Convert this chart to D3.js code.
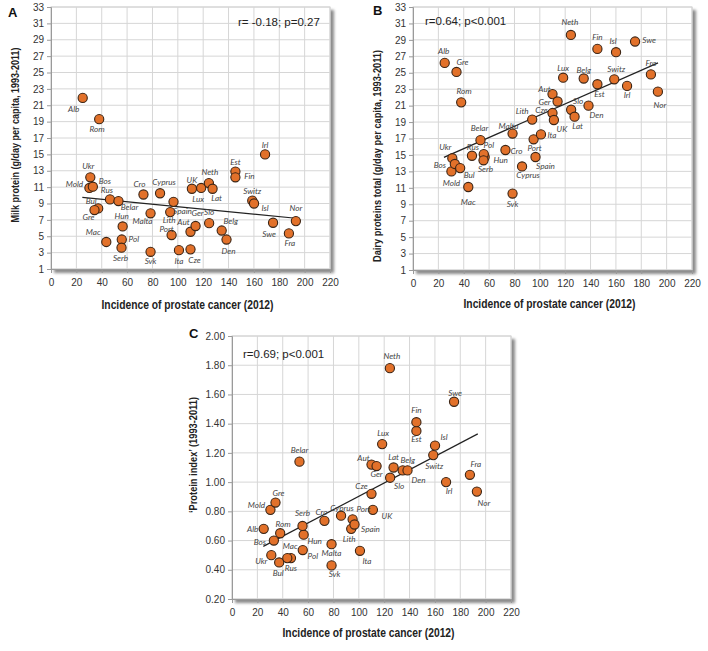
<!DOCTYPE html>
<html><head><meta charset="utf-8">
<script src="https://d3js.org/d3.v7.min.js"></script>
<style>
body{margin:0;background:#fff;}
svg{display:block;}
</style></head>
<body>
<svg id="chart" width="708" height="651"></svg>
<script>
// ---------- DATA ----------
const countries = ["Alb","Rom","Ukr","Mold","Bos","Rus","Belar","Bul","Gre","Hun","Mac","Pol","Serb","Svk","Cro","Cyprus","Malta","Lith","Port","Spain","Ita","Cze","Aut","Ger","Slo","Belg","Den","UK","Lux","Neth","Lat","Est","Fin","Irl","Switz","Isl","Swe","Nor","Fra"];
const incidence = [25,38,31,30.3,33,46.5,53.2,37.2,34.3,56.5,43.6,55.8,55.6,78.5,72.9,86,78.5,94,95.1,96.6,100.9,110,110,114,124.7,134.6,138.4,111.1,118.4,124.5,127.4,145.4,145.4,168.8,158.7,160.1,175.1,193.1,187.6];
const milkProtein = [21.9,19.3,12.2,10.9,11.05,9.5,9.3,8.4,8.2,6.2,4.3,4.6,3.6,3.1,10.1,10.25,7.8,7.95,5.15,9.2,3.3,3.4,5.55,6.25,6.6,5.7,4.6,10.8,10.9,11.5,10.8,12.9,12.2,15.0,9.35,9.0,6.65,6.85,5.35];
const dairyProtein = [26.2,21.4,14.6,13.0,13.9,14.9,16.8,13.4,25.1,14.75,11.1,15.1,14.35,10.3,15.6,13.6,17.6,19.3,16.9,14.75,17.5,20.1,22.4,21.5,20.5,24.3,21.0,19.25,24.4,29.6,19.65,23.6,27.9,23.4,24.2,27.5,28.8,22.7,24.8];
const proteinIndex = [0.68,0.65,0.50,0.81,0.60,0.48,1.14,0.45,0.86,0.64,0.48,0.535,0.70,0.43,0.735,0.77,0.575,0.68,0.745,0.71,0.53,0.92,1.12,1.11,1.03,1.08,1.08,0.81,1.26,1.78,1.10,1.35,1.41,1.00,1.185,1.25,1.55,0.935,1.05];
const xTicks = [0,20,40,60,80,100,120,140,160,180,200,220];
const yTicksProtein = [1,3,5,7,9,11,13,15,17,19,21,23,25,27,29,31,33];
const yTicksIndex = [0.20,0.40,0.60,0.80,1.00,1.20,1.40,1.60,1.80,2.00];
// trend lines: [x, y] endpoints
const trendA = [[24.7,9.75],[193,7.2]];
const trendB = [[24.4,14.7],[193.2,26.2]];
const trendC = [[24.7,0.56],[193.8,1.33]];
const statA = "r= -0.18; p=0.27";
const statB = "r=0.64; p<0.001";
const statC = "r=0.69; p<0.001";
const xTitle = "Incidence of prostate cancer (2012)";
const yTitleA = "Milk protein (g/day per capita, 1993-2011)";
const yTitleB = "Dairy proteins total (g/day per capita, 1993-2011)";
const yTitleC = "\u2018Protein index\u2019 (1993-2011)";

// ---------- LAYOUT (label offsets in px, relative to dot) ----------
const labA = {Alb:[-9,11],Rom:[-2,10],Ukr:[-2,-11],Mold:[-15,-4],Bos:[12,-6],Rus:[-3,-9],Belar:[11,6],Bul:[-7,-7],Gre:[-6,7],Hun:[-1,-10],Mac:[-13,-10],Pol:[12,-1],Serb:[-1,10],Svk:[0,9],Cro:[-4,-10],Cyprus:[4,-11],Malta:[-8,8],Lith:[-1,8],Port:[-5,-6],Spain:[9,9],Ita:[0,11],Cze:[4,11],Aut:[-7,-10],Ger:[2,-13],Slo:[0,-11],Belg:[9,-10],Den:[2,11],UK:[0,-9],Lux:[-3,11],Neth:[1,-11],Lat:[4,9],Est:[0,-10],Fin:[14,-1],Irl:[0,-9],Switz:[0,-10],Isl:[11,4],Swe:[-4,11],Nor:[0,-13],Fra:[1,10]};
const labB = {Alb:[-1,-12],Gre:[6,-10],Rom:[3,-11],Belar:[-1,-12],Malta:[-4,-8],Lith:[-10,-9],Ukr:[-7,-11],Rus:[1,-9],Pol:[5,-9],Cro:[11,1],Hun:[16,3],Serb:[2,9],Bos:[-15,1],Bul:[9,7],Mold:[0,12],Mac:[0,15],Svk:[0,10],Cyprus:[6,9],Spain:[10,9],Port:[1,9],Ita:[11,1],UK:[8,9],Cze:[-11,-3],Ger:[-13,0],Aut:[-8,-5],Slo:[7,-9],Lat:[3,9],Den:[8,9],Lux:[0,-10],Belg:[0,-9],Switz:[2,-10],Est:[2,10],Irl:[0,9],Fra:[0,-11],Nor:[2,13],Neth:[-1,-13],Fin:[0,-12],Isl:[-3,-11],Swe:[14,-2]};
const labC = {Belar:[0,-12],Neth:[2,-12],Swe:[1,-9],Fin:[0,-12],Est:[0,8],Lux:[1,-11],Isl:[9,-9],Switz:[1,11],Aut:[-8,-7],Ger:[0,8],Lat:[0,-11],Belg:[5,-10],Den:[11,10],Fra:[6,-11],Irl:[3,9],Slo:[9,8],Cze:[-10,-8],Nor:[7,11],UK:[14,6],Port:[11,-10],Spain:[16,5],Lith:[-2,10],Ita:[7,10],Gre:[3,-10],Mold:[-14,-5],Alb:[-11,0],Rom:[3,-9],Bos:[-14,1],Ukr:[-10,6],Bul:[-1,11],Mac:[3,-12],Rus:[0,10],Serb:[0,-13],Hun:[11,6],Pol:[10,6],Cro:[-3,-9],Cyprus:[1,-8],Malta:[0,9],Svk:[3,9]};

const svg = d3.select("#chart");
const defs = svg.append("defs");
defs.append("filter").attr("id","shadow").attr("x","-10%").attr("y","-10%").attr("width","130%").attr("height","130%")
  .append("feGaussianBlur").attr("stdDeviation",1.8);

function panel(cfg){
  const x = d3.scaleLinear().domain([0,220]).range([cfg.x0,cfg.x1]);
  const y = d3.scaleLinear().domain(cfg.yDom).range([cfg.yBot,cfg.yTop]);
  const g = svg.append("g");
  const w = cfg.x1-cfg.x0, h = cfg.yBot-cfg.yTop;
  g.append("rect").attr("x",cfg.x0+3).attr("y",cfg.yTop+3).attr("width",w+1).attr("height",h+1)
    .attr("fill","#8a8a8a").attr("filter","url(#shadow)");
  g.append("rect").attr("x",cfg.x0).attr("y",cfg.yTop).attr("width",w).attr("height",h)
    .attr("fill","#fff").attr("stroke","#cfcfcf");
  // grid
  g.append("g").selectAll("line").data(cfg.yTicks).join("line")
    .attr("x1",cfg.x0).attr("x2",cfg.x1).attr("y1",d=>y(d)).attr("y2",d=>y(d))
    .attr("stroke","#d6d6d6").attr("stroke-width",1);
  g.append("g").selectAll("line").data(xTicks).join("line")
    .attr("y1",cfg.yTop).attr("y2",cfg.yBot).attr("x1",d=>x(d)).attr("x2",d=>x(d))
    .attr("stroke","#d6d6d6").attr("stroke-width",1);
  // axes
  const ax = g.append("g").attr("transform",`translate(0,${cfg.yBot})`)
    .call(d3.axisBottom(x).tickValues(xTicks).tickSize(4).tickPadding(6).tickFormat(d3.format("d")));
  const ay = g.append("g").attr("transform",`translate(${cfg.x0},0)`)
    .call(d3.axisLeft(y).tickValues(cfg.yTicks).tickSize(4).tickPadding(3).tickFormat(cfg.fmt));
  [ax,ay].forEach(a=>{
    a.select(".domain").attr("stroke","#9a9a9a");
    a.selectAll(".tick line").attr("stroke","#9a9a9a");
    a.selectAll("text").attr("font-family","'Liberation Sans',Arial,sans-serif").attr("font-size",10).attr("fill","#333");
  });
  // trend line
  g.append("path").datum(cfg.trend)
    .attr("d",d3.line().x(d=>x(d[0])).y(d=>y(d[1])))
    .attr("stroke","#222").attr("stroke-width",1.2).attr("fill","none");
  // points
  const pts = countries.map((c,i)=>({c, xv:incidence[i], yv:cfg.vals[i]}));
  g.append("g").selectAll("circle").data(pts).join("circle")
    .attr("cx",d=>x(d.xv)).attr("cy",d=>y(d.yv)).attr("r",4.6)
    .attr("fill","#e2712a").attr("stroke","#3b2414").attr("stroke-width",1.1);
  g.append("g").selectAll("text").data(pts).join("text")
    .attr("x",d=>x(d.xv)+(cfg.lab[d.c]||[0,-10])[0])
    .attr("y",d=>y(d.yv)+(cfg.lab[d.c]||[0,-10])[1])
    .attr("text-anchor","middle").attr("dominant-baseline","central")
    .attr("font-family","Lato,'Open Sans',sans-serif").attr("font-style","italic")
    .attr("font-size",8.2).attr("fill","#444").text(d=>d.c);
  // stat text
  g.append("text").attr("x",cfg.statX).attr("y",cfg.statY)
    .attr("font-family","'Liberation Sans',Arial,sans-serif").attr("font-size",11.5).attr("fill","#222")
    .text(cfg.stat);
  // titles
  g.append("text").attr("x",(cfg.x0+cfg.x1)/2 - 3).attr("y",cfg.xTitleY)
    .attr("text-anchor","middle").attr("font-family","'Liberation Sans',Arial,sans-serif")
    .attr("font-weight","bold").attr("font-size",12).attr("fill","#222")
    .attr("textLength",172).attr("lengthAdjust","spacingAndGlyphs").text(xTitle);
  g.append("text").attr("transform",`translate(${cfg.yTitleX},${cfg.yTitleY}) rotate(-90)`)
    .attr("text-anchor","middle").attr("dominant-baseline","central")
    .attr("font-family","'Liberation Sans',Arial,sans-serif")
    .attr("font-weight","bold").attr("font-size",10.5).attr("fill","#222")
    .attr("textLength",cfg.yTitleLen).attr("lengthAdjust","spacingAndGlyphs").text(cfg.yTitle);
  g.append("text").attr("x",cfg.letterX).attr("y",cfg.letterY)
    .attr("font-family","'Liberation Sans',Arial,sans-serif").attr("font-weight","bold")
    .attr("font-size",13).attr("fill","#111").text(cfg.letter);
}

panel({x0:51,x1:330,yTop:7,yBot:269,yDom:[1,33],yTicks:yTicksProtein,fmt:d3.format("d"),
  vals:milkProtein,lab:labA,trend:trendA,stat:statA,statX:238,statY:26,
  xTitleY:309,yTitle:yTitleA,yTitleX:15,yTitleY:135,yTitleLen:175,letter:"A",letterX:8,letterY:17});
panel({x0:413,x1:692,yTop:7,yBot:270,yDom:[1,33],yTicks:yTicksProtein,fmt:d3.format("d"),
  vals:dairyProtein,lab:labB,trend:trendB,stat:statB,statX:425,statY:25,
  xTitleY:308,yTitle:yTitleB,yTitleX:377,yTitleY:156,yTitleLen:212,letter:"B",letterX:373,letterY:15});
panel({x0:232,x1:511,yTop:336,yBot:599,yDom:[0.2,2.0],yTicks:yTicksIndex,fmt:d3.format(".2f"),
  vals:proteinIndex,lab:labC,trend:trendC,stat:statC,statX:243,statY:358,
  xTitleY:637,yTitle:yTitleC,yTitleX:193,yTitleY:455,yTitleLen:116,letter:"C",letterX:189,letterY:338});
</script>
</body></html>
